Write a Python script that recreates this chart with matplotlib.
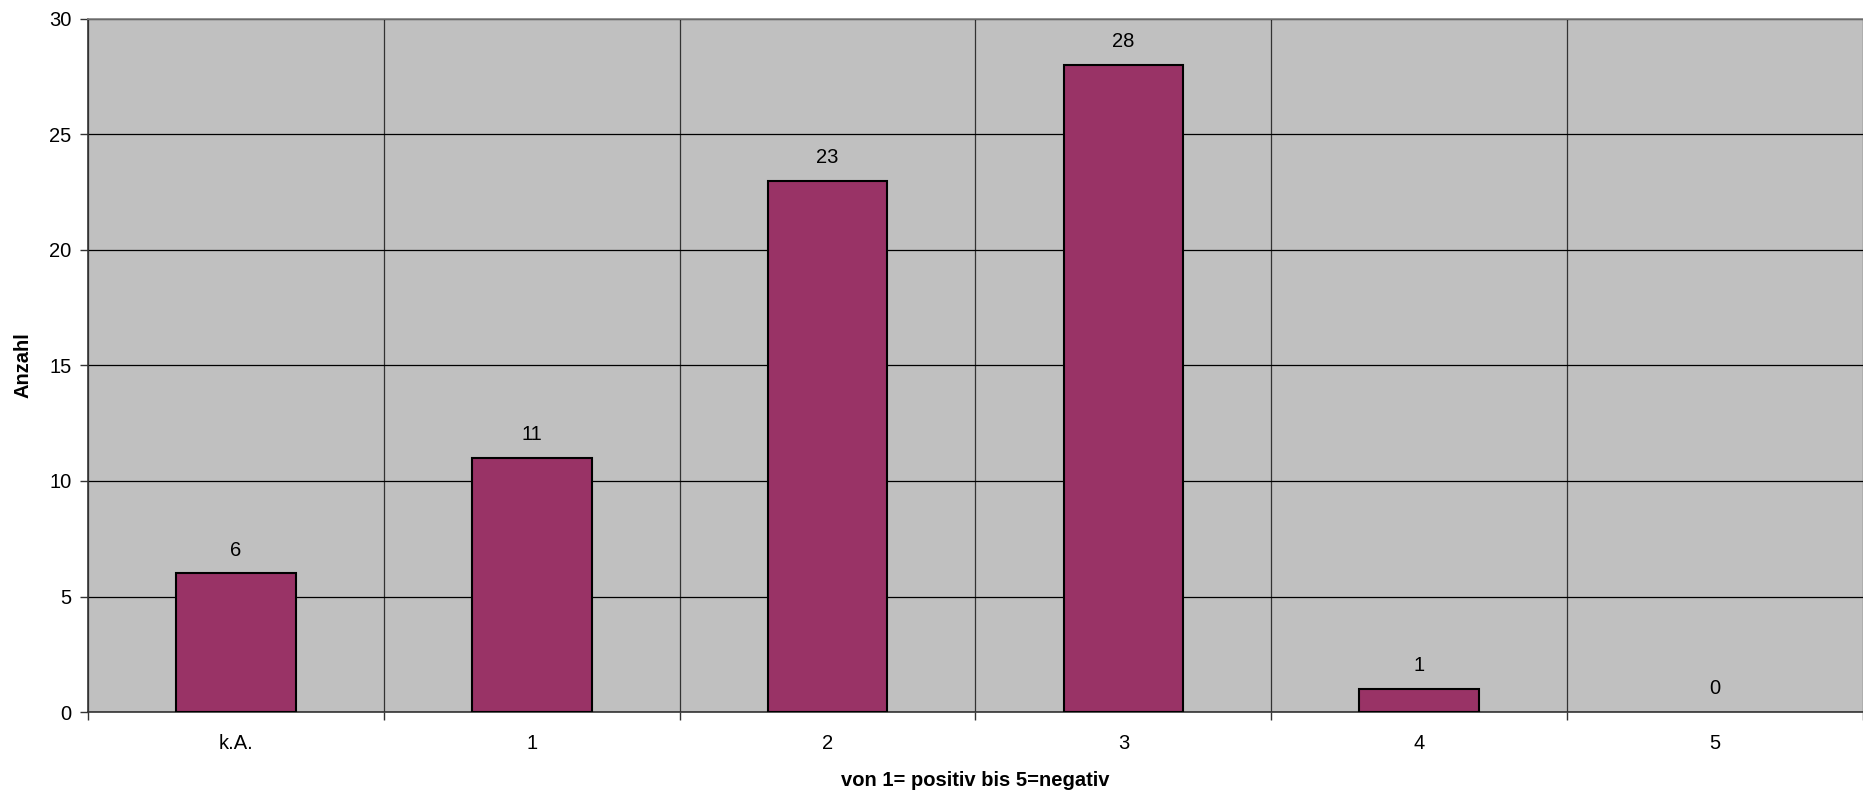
import matplotlib
matplotlib.use("Agg")
import matplotlib.pyplot as plt
import numpy as np

categories = ["k.A.", "1", "2", "3", "4", "5"]
values = [6, 11, 23, 28, 1, 0]

plt.rcParams['font.family'] = ['Liberation Sans', 'DejaVu Sans']

fig = plt.figure(figsize=(18.63, 7.98), dpi=100)
ax = fig.add_axes([88/1863, 1 - 712/798, (1863-88)/1863, (712-19)/798])
ax.set_facecolor('#c0c0c0')

x = np.arange(len(categories))
bars = ax.bar(x, values, width=0.405, color='#993366', edgecolor='black', linewidth=1.5, zorder=3)
for b, v in zip(bars, values):
    if v == 0:
        b.set_linewidth(0)

for xi, v in zip(x, values):
    ax.annotate(str(v), (xi, v), xytext=(0, 10), textcoords='offset points',
                ha='center', va='bottom', fontsize=14.5, zorder=4)

ax.set_xlim(-0.5, len(categories) - 0.5)
ax.set_ylim(0, 30)
ax.set_yticks(range(0, 31, 5))
ax.set_xticks(x)
ax.set_xticklabels(categories)
ax.set_xticks(np.arange(-0.5, len(categories), 1), minor=True)
ax.tick_params(axis='x', which='major', length=0, pad=16, labelsize=14.5)
ax.tick_params(axis='x', which='minor', length=6, width=1, color='#333333')
ax.tick_params(axis='y', length=6, width=1, pad=6, labelsize=14.5, color='#333333')

ax.grid(axis='y', color='black', linewidth=0.9, zorder=1)
ax.grid(axis='x', which='minor', color='#333333', linewidth=0.9, zorder=1)

ax.spines['right'].set_visible(False)
ax.spines['top'].set_color('#808080')
ax.spines['top'].set_linewidth(1.2)
ax.spines['left'].set_color('#333333')
ax.spines['left'].set_linewidth(1.2)
ax.spines['bottom'].set_color('#333333')
ax.spines['bottom'].set_linewidth(1.2)

ax.set_xlabel('von 1= positiv bis 5=negativ', fontsize=14.5, fontweight='bold', labelpad=13)
ax.set_ylabel('Anzahl', fontsize=14.5, fontweight='bold', labelpad=12)

fig.savefig('out.png', dpi=100)
